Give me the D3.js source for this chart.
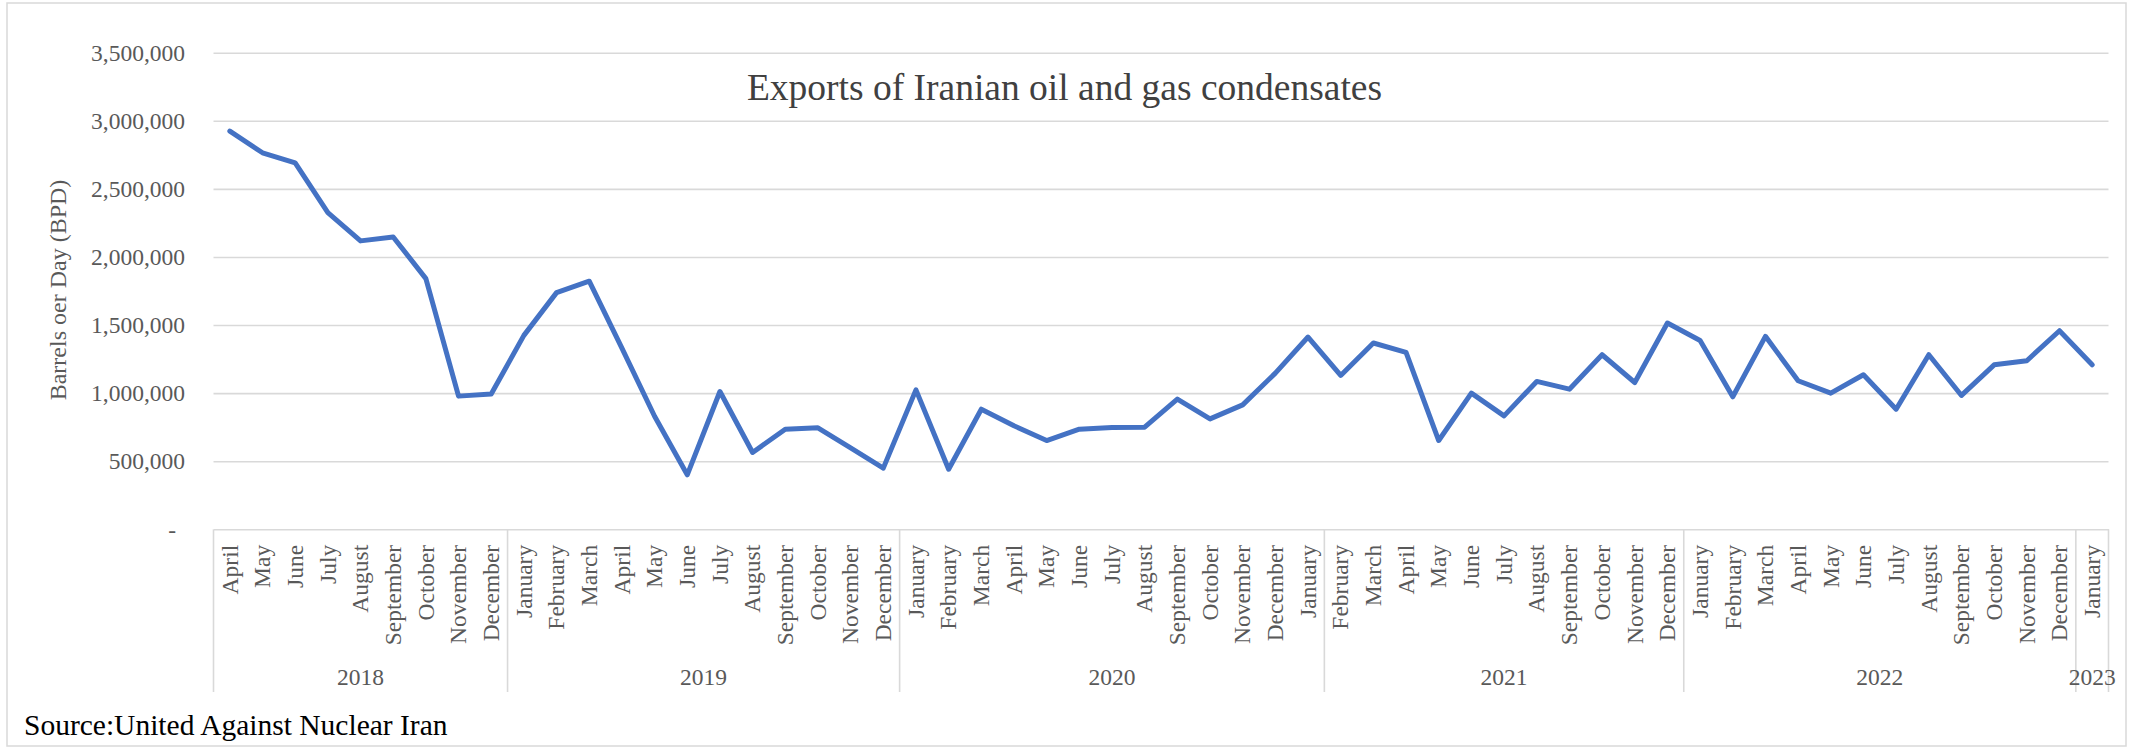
<!DOCTYPE html>
<html>
<head>
<meta charset="utf-8">
<script src="https://cdn.jsdelivr.net/npm/d3@7"></script>
<style>
  html, body { margin: 0; padding: 0; background: #fff; }
  svg { display: block; }
  text { font-family: "Liberation Serif", "Times New Roman", serif; }
</style>
</head>
<body>
<svg id="chart" width="2134" height="748"></svg>
<script>
// ---- Data ----
const months = [
  "April","May","June","July","August","September","October","November","December",
  "January","February","March","April","May","June","July","August","September","October","November","December",
  "January","February","March","April","May","June","July","August","September","October","November","December","January",
  "February","March","April","May","June","July","August","September","October","November","December",
  "January","February","March","April","May","June","July","August","September","October","November","December",
  "January"
];
const yearLabels = ["2018","2019","2020","2021","2022","2023"];
const yearSpans  = [9, 12, 13, 11, 12, 1];
const exportsBPD = [
  2924000, 2765000, 2691000, 2326000, 2118000, 2147000, 1841000, 978000, 993000,
  1424000, 1738000, 1822000, 1330000, 830000, 400000, 1012000, 564000, 735000, 745000, 598000, 449000,
  1024000, 441000, 882000, 760000, 652000, 735000, 748000, 750000, 956000, 811000, 914000, 1147000, 1412000,
  1130000, 1368000, 1299000, 652000, 1000000, 833000, 1086000, 1029000, 1282000, 1078000, 1515000,
  1387000, 973000, 1417000, 1091000, 1000000, 1135000, 882000, 1282000, 983000, 1208000, 1238000, 1458000,
  1208000
];
const yTicks = [0, 500000, 1000000, 1500000, 2000000, 2500000, 3000000, 3500000];
const titleText = "Exports of Iranian oil and gas condensates";
const yAxisTitle = "Barrels oer Day (BPD)";
const sourceText = "Source:United Against Nuclear Iran";

// ---- Layout ----
const svg = d3.select("#chart");
const plot = { left: 213.5, right: 2108.5, top: 52.7, bottom: 529.3 };
const gridColor = "#d9d9d9";
const textColor = "#595959";

svg.append("rect")
  .attr("x", 7).attr("y", 3).attr("width", 2119).attr("height", 743)
  .attr("fill", "#fff").attr("stroke", gridColor).attr("stroke-width", 1.5);

const x = d3.scaleBand()
  .domain(d3.range(exportsBPD.length))
  .range([plot.left, plot.right])
  .paddingInner(0).paddingOuter(0);

const y = d3.scaleLinear()
  .domain([0, 3500000])
  .range([plot.bottom, plot.top]);

// Gridlines
const grid = svg.append("g")
  .attr("transform", `translate(${plot.left},0)`)
  .call(d3.axisLeft(y).tickValues(yTicks.filter(d => d > 0)).tickSize(-(plot.right - plot.left)).tickFormat(""));
grid.select(".domain").remove();
grid.selectAll(".tick line").attr("stroke", gridColor).attr("stroke-width", 1.6);

// Y axis labels
const yAxis = svg.append("g")
  .attr("transform", `translate(${plot.left},0)`)
  .call(d3.axisLeft(y).tickValues(yTicks).tickSize(0).tickPadding(28.5)
    .tickFormat(d => d === 0 ? "-" : d3.format(",")(d)));
yAxis.select(".domain").remove();
yAxis.selectAll(".tick text")
  .attr("fill", textColor)
  .style("font-size", "23.5px")
  .style("font-family", "'Liberation Serif', 'Times New Roman', serif")
  .attr("dy", "0.33em");
yAxis.selectAll(".tick").filter(d => d === 0).select("text").attr("x", -37.5);

// X axis (months)
const xAxis = svg.append("g")
  .attr("transform", `translate(0,${plot.bottom})`)
  .call(d3.axisBottom(x).tickSize(0).tickSizeOuter(0).tickFormat(i => months[i]));
xAxis.select(".domain").attr("stroke", gridColor).attr("stroke-width", 1.6);
xAxis.selectAll(".tick text")
  .attr("fill", textColor)
  .style("font-size", "23.5px")
  .style("font-family", "'Liberation Serif', 'Times New Roman', serif")
  .attr("text-anchor", "end")
  .attr("transform", "rotate(-90)")
  .attr("x", -15.5)
  .attr("y", 0)
  .attr("dy", "0.33em");

// Year group separators and labels
const starts = [];
let acc = 0;
yearSpans.forEach(n => { starts.push(acc); acc += n; });
const bounds = starts.map(s => x(s)).concat([plot.right]);
svg.append("g").selectAll("line")
  .data(bounds)
  .join("line")
  .attr("x1", d => d).attr("x2", d => d)
  .attr("y1", plot.bottom).attr("y2", 692)
  .attr("stroke", gridColor).attr("stroke-width", 1.6);

svg.append("g").selectAll("text")
  .data(yearLabels)
  .join("text")
  .attr("x", (d, i) => (bounds[i] + bounds[i + 1]) / 2)
  .attr("y", 677)
  .attr("dy", "0.33em")
  .attr("text-anchor", "middle")
  .attr("fill", textColor)
  .style("font-size", "23.5px")
  .text(d => d);

// Line
const line = d3.line()
  .x((d, i) => x(i) + x.bandwidth() / 2)
  .y(d => y(d));
svg.append("path")
  .datum(exportsBPD)
  .attr("d", line)
  .attr("fill", "none")
  .attr("stroke", "#4472C4")
  .attr("stroke-width", 5)
  .attr("stroke-linejoin", "round")
  .attr("stroke-linecap", "round");

// Title
svg.append("text")
  .attr("x", 1064.5).attr("y", 100)
  .attr("text-anchor", "middle")
  .attr("fill", "#404040")
  .style("font-size", "37.5px")
  .text(titleText);

// Y axis title
svg.append("text")
  .attr("transform", "translate(66,290) rotate(-90)")
  .attr("text-anchor", "middle")
  .attr("fill", textColor)
  .style("font-size", "24px")
  .text(yAxisTitle);

// Source
svg.append("text")
  .attr("x", 24).attr("y", 735)
  .attr("fill", "#000")
  .style("font-size", "29.5px")
  .text(sourceText);
</script>
</body>
</html>
